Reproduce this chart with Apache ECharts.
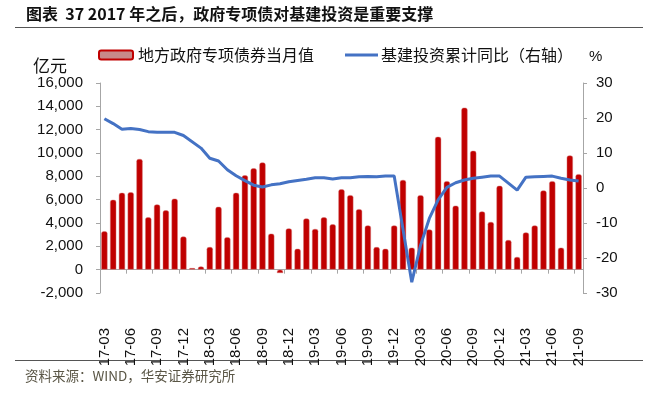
<!DOCTYPE html>
<html>
<head>
<meta charset="utf-8">
<script src="https://cdn.jsdelivr.net/npm/echarts@6/dist/echarts.min.js"></script>
<style>
  html, body { margin: 0; padding: 0; background: #fff; }
  #chart { width: 656px; height: 396px; }
</style>
</head>
<body>
<div id="chart"></div>
<script>
// 月份（17-03 ~ 21-09）
const months = [
  '17-03', '17-04', '17-05', '17-06', '17-07', '17-08', '17-09', '17-10', '17-11', '17-12',
  '18-01', '18-02', '18-03', '18-04', '18-05', '18-06', '18-07', '18-08', '18-09', '18-10', '18-11', '18-12',
  '19-01', '19-02', '19-03', '19-04', '19-05', '19-06', '19-07', '19-08', '19-09', '19-10', '19-11', '19-12',
  '20-01', '20-02', '20-03', '20-04', '20-05', '20-06', '20-07', '20-08', '20-09', '20-10', '20-11', '20-12',
  '21-01', '21-02', '21-03', '21-04', '21-05', '21-06', '21-07', '21-08', '21-09'
]
// 地方政府专项债券当月值（亿元）
const bondValues = [
  3300, 6000, 6600, 6650, 9500, 4500, 5600, 5100, 6100, 2850,
  150, 280, 1950, 5400, 2800, 6600, 8100, 8700, 9200, 3100, -300, 3550,
  1800, 4400, 3500, 4500, 3900, 6900, 6400, 5200, 3800, 1950, 1800, 3800,
  7700, 1900, 6400, 3450, 11400, 7600, 5500, 13900, 10200, 5000, 4100, 7200,
  2550, 1100, 3200, 3800, 6800, 7600, 1900, 9800, 8200
]
// 基建投资累计同比（%），1月无数据
const infraYoy = [
  19.8, 18.4, 16.8, 17.0, 16.7, 16.1, 15.9, 15.9, 15.9, 15.0,
  null, 11.4, 8.5, 7.7, 5.2, 3.5, 2.1, 0.8, 0.3, 0.9, 1.2, 1.8,
  null, 2.5, 2.9, 2.9, 2.6, 2.9, 2.9, 3.2, 3.3, 3.2, 3.4, 3.4,
  null, -26.9, -16.4, -8.7, -3.4, 0.2, 1.5, 2.3, 2.8, 3.1, 3.4, 3.4,
  null, -0.6, 3.1, 3.2, 3.3, 3.4, 2.8, 2.3, 2.0
]
const barName = '地方政府专项债券当月值'
const lineName = '基建投资累计同比（右轴）'

const numFont = '"Liberation Sans", Arial, sans-serif'
const cjkFont = '"Noto Sans CJK SC", sans-serif'
const axisGrey = '#A6A6A6'

const chart = echarts.init(document.getElementById('chart'))
const option = {
  animation: false,
  backgroundColor: '#fff',
  textStyle: { fontFamily: cjkFont },
  graphic: [
    {
      type: 'text', left: 26, top: 6,
      style: {
        text: '图表  37 2017 年之后，政府专项债对基建投资是重要支撑',
        font: 'bold 16px "Noto Sans CJK SC", sans-serif', fill: '#111'
      }
    },
    { type: 'line', shape: { x1: 15, y1: 27.5, x2: 643, y2: 27.5 }, style: { stroke: '#555', lineWidth: 1 } },
    {
      type: 'text', left: 33, top: 57,
      style: { text: '亿元', font: '17px "Noto Sans CJK SC", sans-serif', fill: '#111' }
    },
    {
      type: 'text', left: 589, top: 49,
      style: { text: '%', font: '15px "Liberation Sans", Arial, sans-serif', fill: '#111' }
    },
    { type: 'line', shape: { x1: 15, y1: 360.5, x2: 643, y2: 360.5 }, style: { stroke: '#555', lineWidth: 1 } },
    {
      type: 'text', left: 25, top: 369,
      style: { text: '资料来源：WIND，华安证券研究所', font: '13.5px "Noto Sans CJK SC", sans-serif', fill: '#5a5646' }
    }
  ],
  legend: [
    {
      left: 93, top: 42,
      data: [barName],
      icon: 'roundRect',
      itemWidth: 34, itemHeight: 9,
      itemStyle: { color: '#C88A8A', borderColor: '#C00000', borderWidth: 2 },
      textStyle: { fontSize: 16, color: '#111', fontFamily: cjkFont }
    },
    {
      left: 340, top: 42,
      data: [lineName],
      icon: 'rect',
      itemWidth: 33, itemHeight: 3,
      itemStyle: { color: '#4472C4' },
      textStyle: { fontSize: 16, color: '#111', fontFamily: cjkFont, padding: [0, 0, 0, -2] }
    }
  ],
  grid: { left: 100, right: 73, top: 83, bottom: 103 },
  xAxis: {
    type: 'category',
    data: months,
    axisLine: { onZero: true, lineStyle: { color: axisGrey, width: 1 } },
    axisTick: { show: true, interval: 2, length: 4, lineStyle: { color: axisGrey } },
    axisLabel: {
      interval: 2, rotate: 90, margin: 35,
      fontSize: 15, color: '#111', fontFamily: numFont
    }
  },
  yAxis: [
    {
      type: 'value',
      min: -2000, max: 16000, interval: 2000,
      axisLine: { show: true, lineStyle: { color: axisGrey } },
      axisTick: { show: true, length: 4, lineStyle: { color: axisGrey } },
      splitLine: { show: false },
      axisLabel: {
        margin: 17, fontSize: 15, color: '#111', fontFamily: numFont,
        formatter: v => v.toLocaleString('en-US')
      }
    },
    {
      type: 'value',
      min: -30, max: 30, interval: 10,
      axisLine: { show: true, lineStyle: { color: axisGrey } },
      axisTick: { show: true, length: 4, lineStyle: { color: axisGrey } },
      splitLine: { show: false },
      axisLabel: { margin: 13, fontSize: 15, color: '#111', fontFamily: numFont }
    }
  ],
  series: [
    {
      name: barName,
      type: 'bar',
      yAxisIndex: 0,
      data: bondValues,
      barWidth: 6.5,
      itemStyle: {
        color: '#C00000',
        borderColor: 'rgba(214,120,120,0.55)',
        borderWidth: 0.8,
        borderRadius: [2, 2, 0, 0]
      }
    },
    {
      name: lineName,
      type: 'line',
      yAxisIndex: 1,
      data: infraYoy,
      connectNulls: true,
      showSymbol: false,
      symbol: 'none',
      lineStyle: { color: '#4472C4', width: 3 },
      itemStyle: { color: '#4472C4' },
      z: 5
    }
  ]
}
chart.setOption(option)
</script>
</body>
</html>
